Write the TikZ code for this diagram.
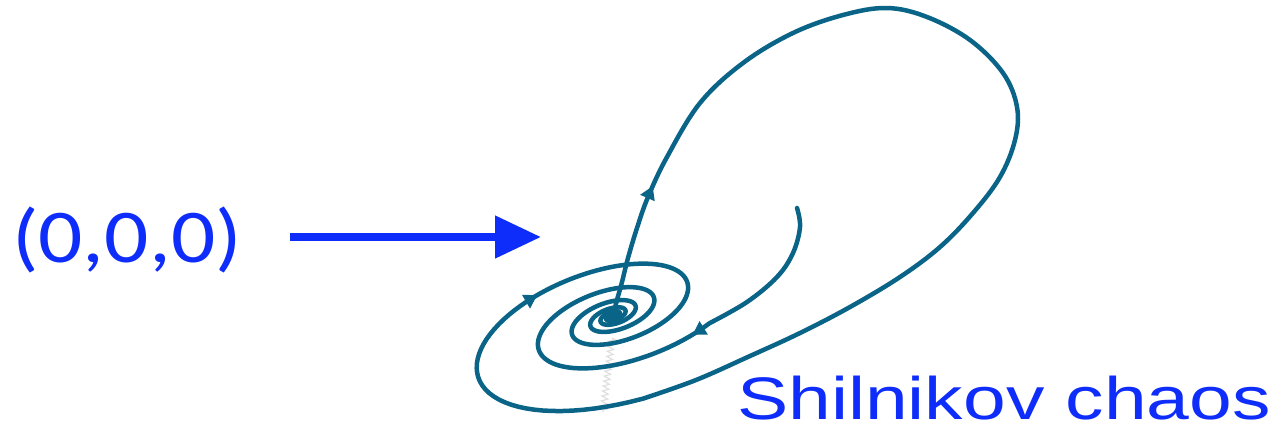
\documentclass[tikz,border=0pt]{standalone}
\usepackage{graphicx}
\usepackage{fontspec}
\setmainfont{Liberation Sans}
\newfontfamily\calibrifont{Carlito}
\usepackage{tikz}
\usetikzlibrary{
  arrows.meta,%
  % arrows sitting on the orbits
  decorations.markings,%
  % faint streak under the focus
  decorations.pathmorphing
}
\definecolor{orbitcol}{RGB}{10,100,135}
\definecolor{labelblue}{RGB}{15,45,250}
\tikzset{>=latex}
\tikzset{orbit/.style={color=orbitcol, line width=4.5pt, line cap=round, line join=round}}
\tikzset{pointer/.style={labelblue, line width=8pt, -{Triangle[length=46pt,width=41pt]}}}
\tikzset{bluetext/.style={text=labelblue, inner sep=0pt, anchor=base west}}

\begin{document}
\begin{tikzpicture}[x=1pt, y=-1pt]
  \useasboundingbox (0,0) rectangle (1285,429);
  % labels and the pointer
  \node[bluetext, font=\calibrifont\fontsize{76}{90}\selectfont] (origin) at (12,262) {\scalebox{1.15}[1]{(0,0,0)}};
  \node[bluetext, font=\fontsize{60}{72}\selectfont] (title) at (737,419) {\scalebox{1.28}[1]{Shilnikov chaos}};
  \coordinate (tail) at (290,237);
  \coordinate (target) at (541,237);
  \draw[pointer] (tail) -- (target);
  % faint streak
  \draw[gray!25, line width=1.2pt, decorate, decoration={zigzag, segment length=5pt, amplitude=3pt}] (612,338) -- (603,412);
  % homoclinic orbit: stem, big loop, then the spiral back in
  \draw[orbit, postaction={decorate}, decoration={markings,
      mark=at position 136pt with {\arrow{Triangle[length=13pt,width=15pt]}},
      mark=at position 1408pt with {\arrow{Triangle[length=13pt,width=15pt]}}}]
    plot[smooth, tension=0.6] coordinates {(613,316) (617,300) (622,282) (628,258) (637,228) (648,197) (667,157)
      (700,103) (743,63) (793,33) (843,15) (887,8) (927,17) (970,40) (1003,73) (1017,107) (1015,140)
      (1000,177) (973,213) (940,247) (900,277) (850,307) (800,333) (750,356) (696,380) (643.1,398.6)}
    -- plot[domain=-90:900, samples=260, variable=\t]
      ({613+145*exp(-0.003316*\t)*(-0.9397*cos(\t)-0.1539*sin(\t))},
       {316-145*exp(-0.003316*\t)*(-0.342*cos(\t)+0.4229*sin(\t))});
  % second branch coming in from the right
  \draw[orbit, postaction={decorate}, decoration={markings,
      mark=at position 178pt with {\arrow{Triangle[length=13pt,width=15pt]}}}]
    plot[smooth, tension=0.6] coordinates {(797,208) (800,227) (793,253) (777,277) (747,302) (709.6,323.15)}
    -- plot[domain=45:1080, samples=260, variable=\t]
      ({613-145*exp(-0.003316*\t)*(-0.9397*cos(\t)-0.1539*sin(\t))},
       {316+145*exp(-0.003316*\t)*(-0.342*cos(\t)+0.4229*sin(\t))});
  % the focus
  \fill[orbitcol, rotate around={-20:(613,316)}] (613,316) ellipse (10pt and 6pt);
\end{tikzpicture}
\end{document}
